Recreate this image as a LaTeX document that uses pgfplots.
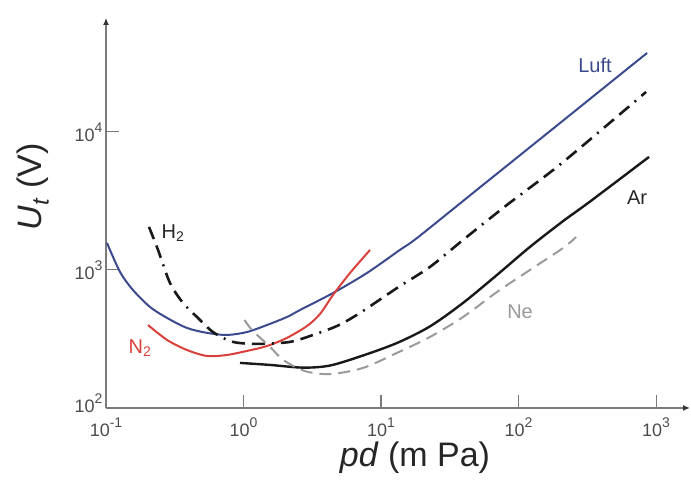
\documentclass[border=0pt]{standalone}
\usepackage{fontspec}
\setmainfont{Liberation Sans}
\usepackage{pgfplots}
\pgfplotsset{compat=1.18}
\usetikzlibrary{arrows.meta}
\definecolor{luft}{HTML}{3B4A8C}
\definecolor{ntwo}{HTML}{D9403B}
\definecolor{neg}{HTML}{9A9A9A}
\definecolor{axg}{HTML}{7A7A7A}
\newcommand\tp[1]{10\raisebox{0.5em}{\fontsize{14}{14}\selectfont #1}}
\begin{document}
\begin{tikzpicture}
\begin{axis}[
  scale only axis, width=584pt, height=390pt,
  xmode=log, ymode=log,
  xmin=0.1, xmax=1766, ymin=100, ymax=66980,
  axis lines=left,
  axis line style={draw=axg, line width=1.4pt},
  x axis line style={-{Latex[length=7pt,width=6pt,color=black!80]}},
  y axis line style={-{Latex[length=7pt,width=6pt,color=black!80]}},
  tick style={draw=axg, line width=1.1pt},
  major tick length=13pt, tick align=inside,
  xminorticks=false, yminorticks=false,
  xtick={0.1,1,10,100,1000}, xticklabels={\tp{-1},\tp{0},\tp{1},\tp{2},\tp{3}},
  ytick={100,1000,10000}, yticklabels={\raisebox{9pt}{\tp{2}},\tp{3},\tp{4}},
  ticklabel style={font=\fontsize{18}{20}\selectfont, text=black!70},
  xticklabel style={yshift=-6pt},
  clip=false,
  xlabel={\textit{pd} (m Pa)}, ylabel={\textit{U}\textsubscript{\textit{t}} (V)},
  label style={font=\fontsize{34}{40}\selectfont, text=black!85},
  x label style={at={(axis description cs:0.529,-0.128)}, anchor=center},
  y label style={at={(axis description cs:-0.125,0.567)}, anchor=center},
]
% Luft
\addplot[luft, line width=2pt, smooth] coordinates {
(0.1017,1570) (0.1264,968) (0.157,716) (0.209,539) (0.278,449) (0.388,380) (0.543,350)
(0.759,338) (1.06,355) (1.48,399) (2.07,456) (2.58,513) (4.48,681) (7.91,951) (13.7,1396)
(18.3,1706) (50,3820) (150,9200) (400,20200) (861,37350)};
% N2
\addplot[ntwo, line width=2pt, smooth] coordinates {
(0.202,399) (0.278,311) (0.388,263) (0.543,238) (0.759,242) (1.06,259) (1.48,281)
(2.07,322) (2.90,393) (3.60,480) (4.48,659) (5.95,951) (8.32,1396)};
% H2
\addplot[black!90, line width=2.6pt, smooth, dash pattern=on 13pt off 7pt on 13pt off 7pt on 2pt off 7pt] coordinates {
(0.2055,2050) (0.239,1396) (0.292,805) (0.363,577) (0.459,456) (0.6,355) (0.839,301)
(1.318,291) (2.18,301) (3.04,332) (4.79,393) (7.03,488) (13.1,741) (22.7,1052)
(39.5,1650) (82.4,2958) (207,5960) (846,19490)};
% Ar
\addplot[black!90, line width=2.4pt, smooth] coordinates {
(0.943,212) (1.56,205) (2.71,196) (4.26,203) (7.4,240) (13.1,296) (22.7,390) (39.5,577)
(69.8,921) (121,1468) (211,2260) (331,3130) (889,6590)};
% Ne
\addplot[neg, line width=2pt, smooth, dash pattern=on 12pt off 7pt] coordinates {
(1.017,434) (1.153,367) (1.56,277) (1.94,223) (2.8,185) (4.26,176) (7.4,195) (13.1,251)
(22.7,327) (39.5,456) (69.8,693) (121,1000) (211,1443) (262,1733)};
\node[text=luft, font=\fontsize{20}{22}\selectfont] at (axis cs:360,30600) {Luft};
\node[text=black!85, font=\fontsize{20}{22}\selectfont] at (axis cs:0.307,1854) {H\textsubscript{2}};
\node[text=ntwo, font=\fontsize{20}{22}\selectfont] at (axis cs:0.177,272) {N\textsubscript{2}};
\node[text=black!85, font=\fontsize{20}{22}\selectfont] at (axis cs:728,3326) {Ar};
\node[text=neg, font=\fontsize{20}{22}\selectfont] at (axis cs:102.6,497) {Ne};
\path (rel axis cs:-0.1815,-0.1846) rectangle (rel axis cs:1.0017,1.046);
\end{axis}
\end{tikzpicture}
\end{document}
